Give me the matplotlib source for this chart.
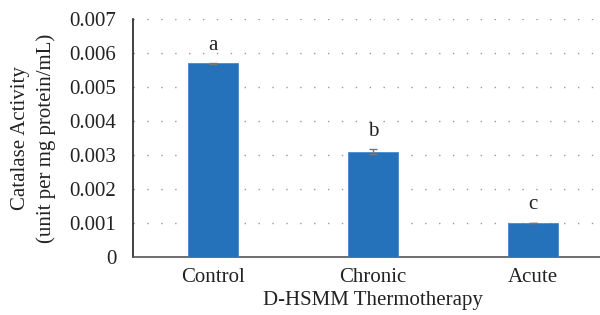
import matplotlib
matplotlib.use("Agg")
import matplotlib.pyplot as plt

categories = ["Control", "Chronic", "Acute"]
values = [0.0057, 0.0031, 0.0010]
errors = [0.00001, 0.00007, 0.00001]
letters = ["a", "b", "c"]
yticks = [0, 0.001, 0.002, 0.003, 0.004, 0.005, 0.006, 0.007]
ytick_labels = ["0", "0.001", "0.002", "0.003", "0.004", "0.005", "0.006", "0.007"]

plt.rcParams['font.family'] = ['Liberation Serif', 'DejaVu Serif']

fig = plt.figure(figsize=(6, 3.15), dpi=100)
ax = fig.add_axes([133/600, 1-257/315, 480/600, 238/315])

x = list(range(len(categories)))
ax.bar(x, values, width=0.31, color="#2672BA", edgecolor="#4A8ACB", linewidth=0.6, zorder=3)
ax.errorbar(x, values, yerr=errors, fmt="none", ecolor="#777777", elinewidth=1,
            capsize=3, capthick=1, zorder=4)
for xi, v, e, l in zip(x, values, errors, letters):
    ax.annotate(l, (xi, v + e), xytext=(0, 6), textcoords="offset points",
                ha="center", va="bottom", fontsize=15, color="#222222")

ax.set_xlim(-0.5, 2.5)
ax.set_ylim(0, 0.007)
ax.set_yticks(yticks)
ax.set_yticklabels(ytick_labels)
ax.set_xticks(x)
ax.set_xticklabels(categories)
ax.tick_params(axis="both", length=0, labelsize=15, colors="#222222")
ax.tick_params(axis="y", pad=12)
ax.tick_params(axis="x", pad=8)
ax.yaxis.grid(True, linestyle=(0, (1, 9)), color="#999999", linewidth=1, zorder=0)
ax.set_axisbelow(True)
for s in ["top", "right"]:
    ax.spines[s].set_visible(False)
ax.spines["left"].set_color("#222222")
ax.spines["left"].set_linewidth(1.2)
ax.spines["bottom"].set_color("#555555")
ax.spines["bottom"].set_linewidth(1.2)

ax.set_ylabel("Catalase Activity\n(unit per mg protein/mL)", fontsize=15, color="#222222",
              labelpad=10, linespacing=1.4)
ax.set_xlabel("D-HSMM Thermotherapy", fontsize=15, color="#222222", labelpad=3)

fig.savefig("out.png", dpi=100)
